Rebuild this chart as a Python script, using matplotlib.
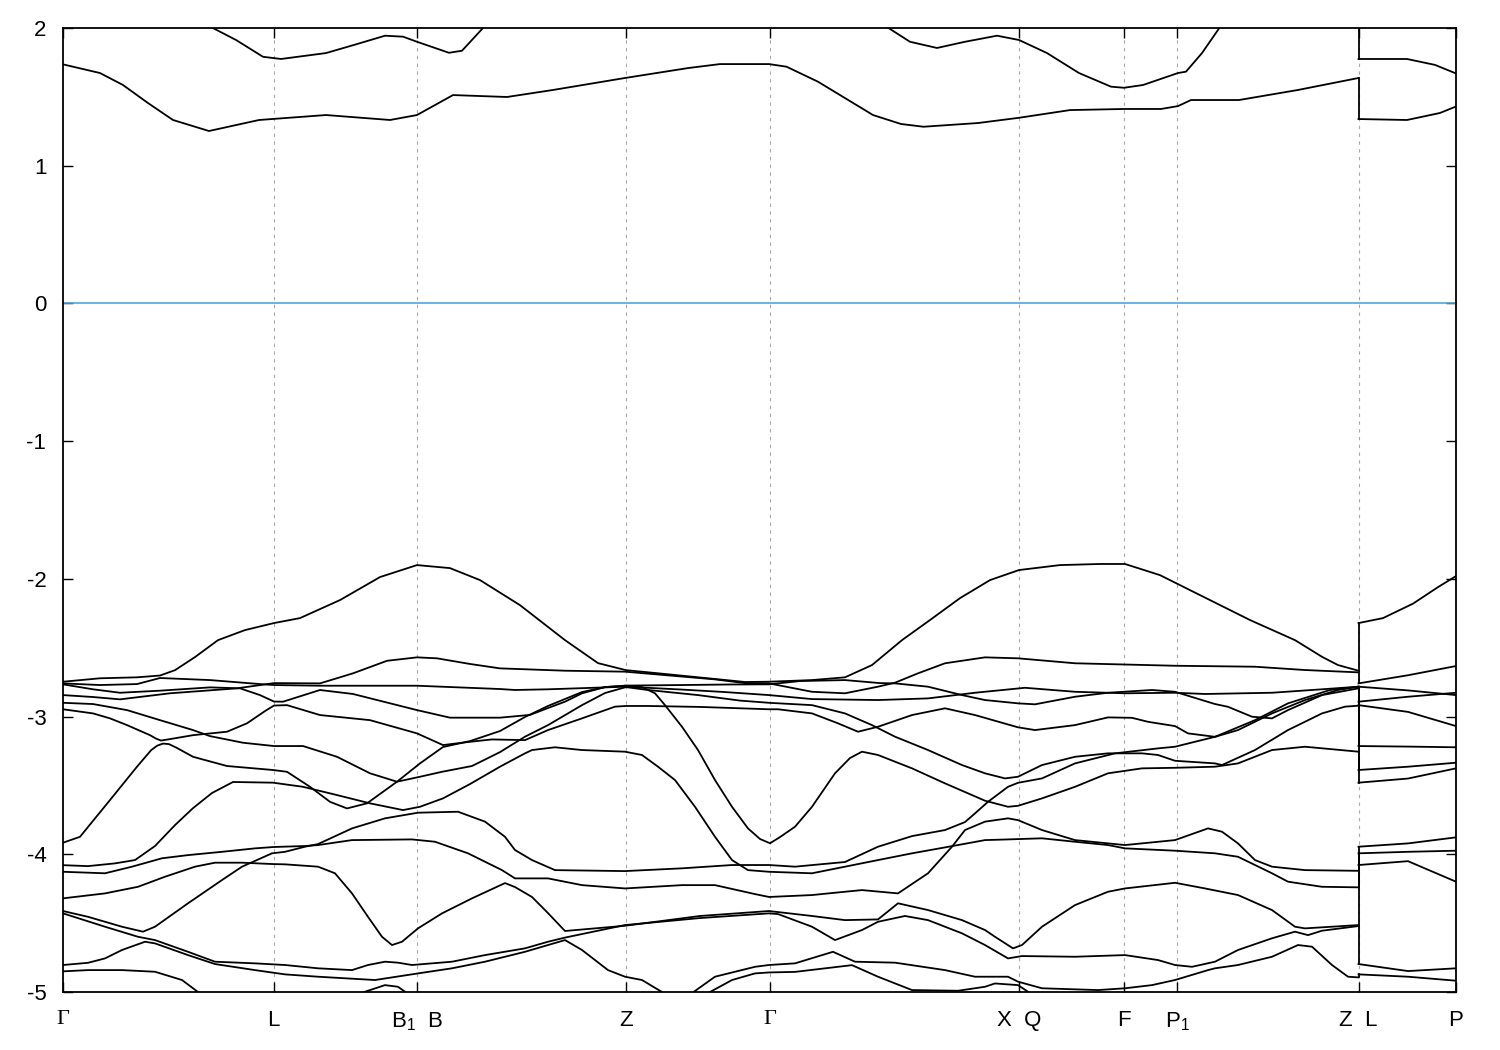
import numpy as np
import matplotlib
matplotlib.use('Agg')
import matplotlib.pyplot as plt

plt.rcParams['font.family'] = ['Liberation Sans', 'DejaVu Sans']
plt.rcParams['mathtext.fontset'] = 'custom'
plt.rcParams['mathtext.rm'] = 'Liberation Sans'
plt.rcParams['axes.unicode_minus'] = False

# high-symmetry points along the k-path
kpts = [0.0, 2.105, 3.54, 5.63, 7.065, 9.563, 10.613, 11.143, 12.955, 13.93]
klabels = ['Γ', 'L', 'B$_1$  B', 'Z', 'Γ', 'X  Q', 'F', 'P$_1$', 'Z  L', 'P']
k_zl = 12.955   # Z|L break, bands jump there

# ---- conduction bands (eV) ----
c1_k = [0, .37, .60, .85, 1.10, 1.46, 1.96, 2.63, 3.27, 3.54, 3.90, 4.44, 4.90, 5.62, 6.25, 6.57, 7.06,
        7.235, 7.55, 8.10, 8.38, 8.605, 9.15, 9.56, 10.07, 10.61, 10.98, 11.15, 11.28, 11.76, 12.35, 12.955]
c1_e = [1.736, 1.673, 1.586, 1.455, 1.332, 1.252, 1.332, 1.368, 1.332, 1.368, 1.513, 1.499, 1.550, 1.637, 1.709,
        1.738, 1.738, 1.719, 1.610, 1.368, 1.303, 1.283, 1.310, 1.348, 1.404, 1.412, 1.412, 1.433, 1.477, 1.477,
        1.550, 1.637]
c2a_k = [1.12, 1.48, 1.73, 2.00, 2.18, 2.63, 2.91, 3.22, 3.40, 3.54, 3.86, 3.99, 4.20, 4.32]
c2a_e = [2.145, 2.007, 1.913, 1.791, 1.775, 1.818, 1.877, 1.944, 1.937, 1.900, 1.820, 1.835, 2.000, 2.130]
c2b_k = [8.12, 8.24, 8.47, 8.74, 9.02, 9.34, 9.56, 9.84, 10.16, 10.48, 10.61, 10.80, 11.15, 11.23, 11.39,
         11.57, 11.67, 12.955]
c2b_e = [2.130, 2.007, 1.900, 1.855, 1.900, 1.944, 1.913, 1.818, 1.673, 1.574, 1.566, 1.586, 1.673, 1.683,
         1.818, 2.007, 2.116, 2.40]
c1r_k = [12.955, 13.44, 13.77, 13.93]
c1r_e = [1.339, 1.332, 1.383, 1.430]
c2r_k = [12.955, 13.44, 13.72, 13.93]
c2r_e = [1.775, 1.775, 1.732, 1.670]

# ---- valence bands, Gamma -> Z (eV) ----
vb1_k = [0, .37, .74, .97, 1.12, 1.32, 1.55, 1.82, 2.11, 2.37, 2.77, 3.17, 3.54, 3.87, 4.17, 4.57, 5.02, 5.35,
         5.63, 5.87, 6.12, 6.52, 6.82, 7.06, 7.49, 7.82, 8.09, 8.39, 8.67, 8.97, 9.27, 9.56, 9.97, 10.37,
         10.62, 10.97, 11.37, 11.87, 12.32, 12.59, 12.75, 12.955]
vb1_e = [-2.747, -2.722, -2.715, -2.702, -2.663, -2.568, -2.445, -2.372, -2.321, -2.285, -2.154, -1.987,
         -1.900, -1.922, -2.009, -2.191, -2.445, -2.612, -2.663, -2.680, -2.698, -2.727, -2.749, -2.747,
         -2.735, -2.715, -2.626, -2.445, -2.299, -2.140, -2.009, -1.936, -1.900, -1.892, -1.892, -1.973,
         -2.118, -2.299, -2.445, -2.566, -2.626, -2.667]
s2_k = [0, .30, .57, 1.07, 1.74, 2.11, 2.57, 2.90, 3.24, 3.54, 3.74, 4.07, 4.37, 5.02, 5.62, 6.52, 6.82, 7.06,
        7.49, 7.82, 8.15, 8.32, 8.55, 8.82, 9.22, 9.55, 10.12, 11.12, 11.92, 12.42, 12.955]
s2_e = [-2.844, -2.858, -2.875, -2.831, -2.795, -2.757, -2.759, -2.686, -2.595, -2.570, -2.577, -2.618,
        -2.650, -2.667, -2.674, -2.730, -2.757, -2.759, -2.820, -2.831, -2.783, -2.754, -2.686, -2.613,
        -2.570, -2.577, -2.613, -2.631, -2.638, -2.662, -2.679]
f_k = [0, .37, .74, .97, 1.47, 1.97, 2.11, 2.57, 3.54, 4.37, 4.52, 4.85, 5.63, 6.19, 6.62, 7.06, 7.49, 8.15,
       8.65, 9.12, 9.62, 10.12, 10.62, 11.12, 11.42, 12.09, 12.59, 12.955]
f_e = [-2.759, -2.771, -2.764, -2.720, -2.735, -2.764, -2.771, -2.776, -2.776, -2.800, -2.807, -2.802, -2.783,
       -2.804, -2.822, -2.844, -2.873, -2.880, -2.868, -2.827, -2.791, -2.820, -2.831, -2.827, -2.836, -2.827,
       -2.802, -2.783]
c_k = [0, .30, .57, .97, 1.47, 1.77, 1.97, 2.11, 2.20, 2.57, 2.90, 3.54, 3.87, 4.37, 4.67, 4.85, 5.02, 5.19,
       5.42, 5.63, 6.19, 6.67, 7.06, 7.37, 7.82, 8.17, 8.32, 8.65, 8.99, 9.22, 9.55, 9.72, 10.12, 10.45, 10.89,
       11.12, 11.52, 11.65, 11.89, 12.09, 12.25, 12.59, 12.955]
c_e = [-2.766, -2.802, -2.827, -2.812, -2.788, -2.795, -2.844, -2.891, -2.892, -2.807, -2.836, -2.953, -3.008,
       -3.008, -2.988, -2.938, -2.892, -2.831, -2.786, -2.775, -2.771, -2.767, -2.766, -2.742, -2.735, -2.757,
       -2.759, -2.783, -2.844, -2.880, -2.904, -2.911, -2.856, -2.827, -2.807, -2.820, -2.909, -2.929, -3.001,
       -3.013, -2.953, -2.844, -2.795]
e_k = [0, .30, .47, .64, .87, .93, .98, 1.06, 1.30, 1.64, 1.84, 2.02, 2.11, 2.24, 2.57, 3.07, 3.54, 3.80,
       4.07, 4.29, 4.62, 4.85, 5.19, 5.52, 5.63, 5.85, 6.37, 7.06, 7.15, 7.49, 7.75, 7.95, 8.15, 8.49, 8.82,
       9.12, 9.55, 9.72, 10.12, 10.45, 10.69, 10.85, 11.12, 11.25, 11.52, 11.75, 12.09, 12.42, 12.75, 12.955]
e_e = [-2.947, -2.977, -3.013, -3.062, -3.135, -3.160, -3.174, -3.165, -3.135, -3.110, -3.049, -2.960, -2.920,
       -2.917, -2.989, -3.026, -3.122, -3.207, -3.183, -3.166, -3.171, -3.098, -3.013, -2.928, -2.923, -2.923,
       -2.930, -2.947, -2.947, -2.977, -3.049, -3.110, -3.074, -2.989, -2.940, -2.989, -3.078, -3.098, -3.062,
       -3.006, -3.009, -3.038, -3.069, -3.122, -3.147, -3.098, -2.977, -2.880, -2.807, -2.783]
d_k = [0, .30, .64, .97, 1.30, 1.47, 1.80, 2.11, 2.40, 2.74, 3.07, 3.34, 3.57, 3.79, 4.09, 4.37, 4.62, 4.85,
       5.19, 5.42, 5.63, 5.85, 6.35, 6.77, 7.06, 7.49, 7.82, 8.09, 8.32, 8.65, 8.99, 9.22, 9.42, 9.55, 9.79,
       10.12, 10.45, 10.79, 10.95, 11.12, 11.52, 11.59, 11.92, 12.25, 12.59, 12.82, 12.955]
d_e = [-2.900, -2.909, -2.953, -3.026, -3.098, -3.142, -3.190, -3.214, -3.214, -3.292, -3.412, -3.473, -3.437,
       -3.401, -3.359, -3.258, -3.146, -3.062, -2.917, -2.829, -2.786, -2.807, -2.844, -2.884, -2.900, -2.917,
       -2.977, -3.062, -3.146, -3.243, -3.352, -3.412, -3.449, -3.437, -3.352, -3.292, -3.267, -3.267, -3.279,
       -3.321, -3.340, -3.352, -3.243, -3.098, -2.977, -2.928, -2.921]
g_k = [0, .17, .47, .74, .88, .94, 1.00, 1.06, 1.14, 1.30, 1.64, 2.10, 2.24, 2.47, 2.67, 2.84, 3.04, 3.34,
       3.57, 3.80, 4.07, 4.37, 4.62, 4.85, 5.19, 5.42, 5.63, 5.79, 5.92, 6.02, 6.19, 6.35, 6.52, 6.69, 6.85,
       6.97, 7.07, 7.17, 7.32, 7.49, 7.72, 7.87, 7.99, 8.15, 8.49, 8.82, 9.22, 9.45, 9.55, 9.79, 10.12, 10.45,
       10.79, 11.12, 11.52, 11.75, 12.09, 12.42, 12.955]
g_e = [-3.916, -3.873, -3.606, -3.364, -3.245, -3.212, -3.196, -3.200, -3.228, -3.292, -3.359, -3.388, -3.401,
       -3.510, -3.619, -3.667, -3.630, -3.473, -3.340, -3.221, -3.178, -3.105, -3.003, -2.923, -2.822, -2.786,
       -2.776, -2.786, -2.831, -2.917, -3.074, -3.243, -3.461, -3.655, -3.812, -3.889, -3.920, -3.875, -3.800,
       -3.655, -3.412, -3.301, -3.255, -3.279, -3.376, -3.485, -3.611, -3.655, -3.648, -3.594, -3.510, -3.412,
       -3.376, -3.372, -3.364, -3.340, -3.243, -3.219, -3.255]
h_k = [0, .25, .52, .72, .92, 1.12, 1.30, 1.49, 1.70, 2.10, 2.40, 2.74, 3.07, 3.40, 3.57, 3.80, 4.07, 4.37,
       4.62, 4.69, 4.92, 5.19, 5.62, 5.79, 5.95, 6.12, 6.32, 6.52, 6.69, 6.85, 7.06, 7.49, 7.82, 8.15, 8.49,
       8.82, 9.22, 9.45, 9.79, 10.12, 10.45, 10.62, 11.12, 11.52, 11.75, 12.09, 12.25, 12.59, 12.955]
h_e = [-4.079, -4.086, -4.066, -4.042, -3.940, -3.788, -3.665, -3.555, -3.475, -3.480, -3.510, -3.570, -3.630,
       -3.679, -3.655, -3.594, -3.490, -3.364, -3.267, -3.243, -3.223, -3.243, -3.255, -3.279, -3.364, -3.461,
       -3.655, -3.873, -4.042, -4.115, -4.127, -4.138, -4.090, -4.042, -3.993, -3.950, -3.897, -3.892, -3.884,
       -3.909, -3.933, -3.957, -3.974, -3.993, -4.018, -4.138, -4.199, -4.236, -4.240]
i_k = [0, .25, .59, .80, .92, 1.25, 1.59, 1.79, 2.09, 2.22, 2.42, 2.55, 2.89, 3.22, 3.55, 3.95, 4.22, 4.42,
       4.52, 4.69, 4.92, 5.62, 6.19, 6.69, 7.06, 7.32, 7.82, 8.15, 8.49, 8.82, 9.02, 9.12, 9.25, 9.45, 9.55,
       9.79, 10.12, 10.52, 10.95, 11.12, 11.52, 11.92, 12.25, 12.67, 12.955]
i_e = [-4.412, -4.454, -4.526, -4.562, -4.526, -4.356, -4.187, -4.090, -3.993, -3.982, -3.945, -3.926, -3.812,
       -3.739, -3.698, -3.691, -3.763, -3.873, -3.969, -4.042, -4.115, -4.122, -4.102, -4.078, -4.078, -4.090,
       -4.056, -3.945, -3.868, -3.824, -3.766, -3.703, -3.619, -3.510, -3.481, -3.449, -3.340, -3.267, -3.231,
       -3.219, -3.147, -3.026, -2.904, -2.807, -2.783]
n_k = [0, .42, .69, .99, 1.25, 1.59, 1.92, 2.11, 2.42, 2.55, 2.89, 3.49, 3.72, 4.05, 4.39, 4.52, 4.85, 5.19,
       5.62, 6.19, 6.52, 6.92, 7.06, 7.49, 7.82, 7.99, 8.35, 8.65, 8.89, 9.02, 9.22, 9.45, 9.55, 9.79, 10.12,
       10.62, 11.12, 11.45, 11.59, 11.75, 11.92, 12.09, 12.42, 12.955]
n_e = [-4.127, -4.138, -4.090, -4.029, -4.006, -3.982, -3.957, -3.947, -3.940, -3.933, -3.897, -3.892, -3.909,
       -3.993, -4.115, -4.175, -4.175, -4.224, -4.248, -4.224, -4.224, -4.289, -4.310, -4.296, -4.272, -4.260,
       -4.284, -4.138, -3.945, -3.824, -3.763, -3.739, -3.752, -3.824, -3.897, -3.933, -3.897, -3.812, -3.836,
       -3.921, -4.042, -4.090, -4.115, -4.120]
o_k = [0, .42, .75, 1.02, 1.32, 1.52, 1.79, 2.10, 2.22, 2.55, 2.72, 2.89, 3.05, 3.19, 3.29, 3.39, 3.55, 3.79,
       4.09, 4.42, 4.52, 4.69, 4.85, 5.02, 5.62, 6.37, 7.06, 7.49, 7.82, 8.15, 8.35, 8.65, 8.99, 9.22, 9.32,
       9.50, 9.59, 9.79, 10.12, 10.45, 10.62, 11.12, 11.42, 11.75, 12.09, 12.32, 12.42, 12.955]
o_e = [-4.320, -4.284, -4.236, -4.163, -4.090, -4.061, -4.061, -4.071, -4.073, -4.090, -4.138, -4.284, -4.454,
       -4.599, -4.659, -4.635, -4.538, -4.429, -4.320, -4.209, -4.238, -4.310, -4.427, -4.557, -4.519, -4.448,
       -4.412, -4.448, -4.478, -4.473, -4.356, -4.405, -4.478, -4.550, -4.599, -4.683, -4.659, -4.526, -4.369,
       -4.272, -4.248, -4.207, -4.248, -4.296, -4.405, -4.526, -4.538, -4.514]
j_k = [0, .42, .75, .92, 1.25, 1.52, 1.92, 2.22, 2.55, 2.89, 3.05, 3.22, 3.35, 3.49, 3.89, 4.22, 4.62, 4.85,
       5.02, 5.62, 6.37, 7.06, 7.15, 7.49, 7.72, 7.99, 8.15, 8.42, 8.65, 8.99, 9.22, 9.45, 9.59, 10.12, 10.62,
       10.95, 11.12, 11.29, 11.52, 11.75, 12.09, 12.32, 12.45, 12.59, 12.955]
j_e = [-4.429, -4.526, -4.599, -4.623, -4.708, -4.780, -4.792, -4.804, -4.828, -4.841, -4.804, -4.780, -4.787,
       -4.804, -4.780, -4.732, -4.683, -4.635, -4.605, -4.514, -4.463, -4.429, -4.434, -4.526, -4.623, -4.550,
       -4.490, -4.448, -4.478, -4.574, -4.659, -4.756, -4.739, -4.744, -4.732, -4.768, -4.804, -4.817, -4.780,
       -4.695, -4.610, -4.562, -4.587, -4.555, -4.521]
p1_k = [6.17, 6.29, 6.52, 6.92, 7.06, 7.32, 7.70, 7.92, 8.32, 8.82, 9.12, 9.45, 9.55, 9.79, 10.35, 10.62,
        10.89, 11.12, 11.45, 11.52, 11.75, 12.09, 12.35, 12.49, 12.69, 12.85, 12.955]
p1_e = [-5.095, -5.008, -4.889, -4.817, -4.804, -4.792, -4.708, -4.780, -4.787, -4.841, -4.889, -4.889, -4.925,
        -4.973, -4.986, -4.973, -4.950, -4.913, -4.841, -4.828, -4.804, -4.744, -4.659, -4.671, -4.804, -4.889,
        -4.894]
# bands that leave the window below -5 eV
kk_k = [0, .25, .42, .59, .82, .92, 1.25, 1.52, 1.92, 2.22, 2.55, 3.12, 3.55, 3.89, 4.22, 4.62, 4.85, 5.02,
        5.19, 5.45, 5.62, 5.79, 5.99, 6.12]
kk_e = [-4.804, -4.788, -4.756, -4.695, -4.635, -4.647, -4.732, -4.797, -4.841, -4.872, -4.889, -4.913, -4.865,
        -4.828, -4.780, -4.708, -4.659, -4.623, -4.695, -4.841, -4.889, -4.913, -5.000, -5.073]
m_k = [0, .25, .59, .92, 1.19, 1.35, 1.47]
m_e = [-4.850, -4.841, -4.841, -4.853, -4.913, -5.000, -5.073]
arc_k = [2.97, 3.02, 3.22, 3.35, 3.42, 3.47]
arc_e = [-5.022, -4.998, -4.950, -4.962, -4.998, -5.029]
p2_k = [6.32, 6.45, 6.69, 6.92, 7.06, 7.32, 7.89, 8.15, 8.49, 8.95, 9.22, 9.32, 9.55, 9.65, 9.72]
p2_e = [-5.095, -5.008, -4.913, -4.865, -4.858, -4.854, -4.805, -4.889, -4.986, -4.991, -4.962, -4.938, -4.950,
        -4.998, -5.044]

# ---- valence bands, L -> P (eV) ----
vbr_k = [12.955, 13.2, 13.5, 13.75, 13.93]
vbr_e = [-2.321, -2.285, -2.180, -2.060, -1.980]
ra_e = [-2.759, -2.700, -2.633]
rb_e = [-2.783, -2.810, -2.844]
rc_e = [-2.892, -2.856, -2.827]
rd_e = [-2.917, -2.966, -3.069]
re_e = [-3.214, -3.218, -3.223]
rf_e = [-3.388, -3.364, -3.335]
rg_e = [-3.480, -3.450, -3.376]
rh_e = [-3.945, -3.921, -3.877]
ri_e = [-3.993, -3.982, -3.974]
rj_e = [-4.078, -4.050, -4.199]
rk_e = [-4.797, -4.848, -4.828]
rl_e = [-4.872, -4.889, -4.918]
r_k = [12.955, 13.45, 13.93]

fig = plt.figure(figsize=(15, 10.5), dpi=100)
ax = fig.add_axes([63 / 1500, 1 - 992 / 1050, 1393 / 1500, 964 / 1050])

for kx in kpts[1:-1]:
    ax.axvline(kx, color='#a8a8a8', lw=0.8, ls=(0, (3, 4)), zorder=1)
ax.axhline(0, color='#4ea8dc', lw=1.2, zorder=2)

lw = 1.3
left = [(vb1_k, vb1_e), (s2_k, s2_e), (f_k, f_e), (c_k, c_e), (e_k, e_e), (d_k, d_e), (g_k, g_e),
        (h_k, h_e), (i_k, i_e), (n_k, n_e), (o_k, o_e), (j_k, j_e), (p1_k, p1_e)]
right = [(vbr_k, vbr_e)] + [(r_k, b) for b in (ra_e, rb_e, rc_e, rd_e, re_e, rf_e, rg_e, rh_e, ri_e, rj_e,
                                               rk_e, rl_e)]
others = [(c1_k, c1_e), (c2a_k, c2a_e), (c2b_k, c2b_e), (c1r_k, c1r_e), (c2r_k, c2r_e),
          (kk_k, kk_e), (m_k, m_e), (arc_k, arc_e), (p2_k, p2_e)]
for kb, eb in left + right + others:
    ax.plot(kb, eb, color='black', lw=lw, zorder=3, solid_joinstyle='round')

# the jump at Z|L: band n at Z joins band n at L (ordered by energy)
ends = sorted([b[1][-1] for b in left], reverse=True)
starts = sorted([b[1][0] for b in right], reverse=True)
for a, b in zip(ends, starts):
    ax.plot([k_zl, k_zl], [a, b], color='black', lw=lw, zorder=3)
for a, b in [(c1_e[-1], c1r_e[0]), (c2b_e[-1], c2r_e[0])]:
    ax.plot([k_zl, k_zl], [a, b], color='black', lw=lw, zorder=3)

ax.set_xlim(0, kpts[-1])
ax.set_ylim(-5, 2)
ax.set_yticks(range(-5, 3))
ax.set_xticks(kpts)
ax.set_xticklabels(klabels)
for t in ax.get_xticklabels():
    if t.get_text() == 'Γ':
        t.set_fontfamily('Liberation Serif')
ax.tick_params(direction='in', length=7, width=1, top=True, right=True, labelsize=16)
ax.tick_params(axis='x', pad=13)
ax.tick_params(axis='y', pad=12)
for s in ax.spines.values():
    s.set_linewidth(1.3)

fig.savefig('out.png', dpi=100)
